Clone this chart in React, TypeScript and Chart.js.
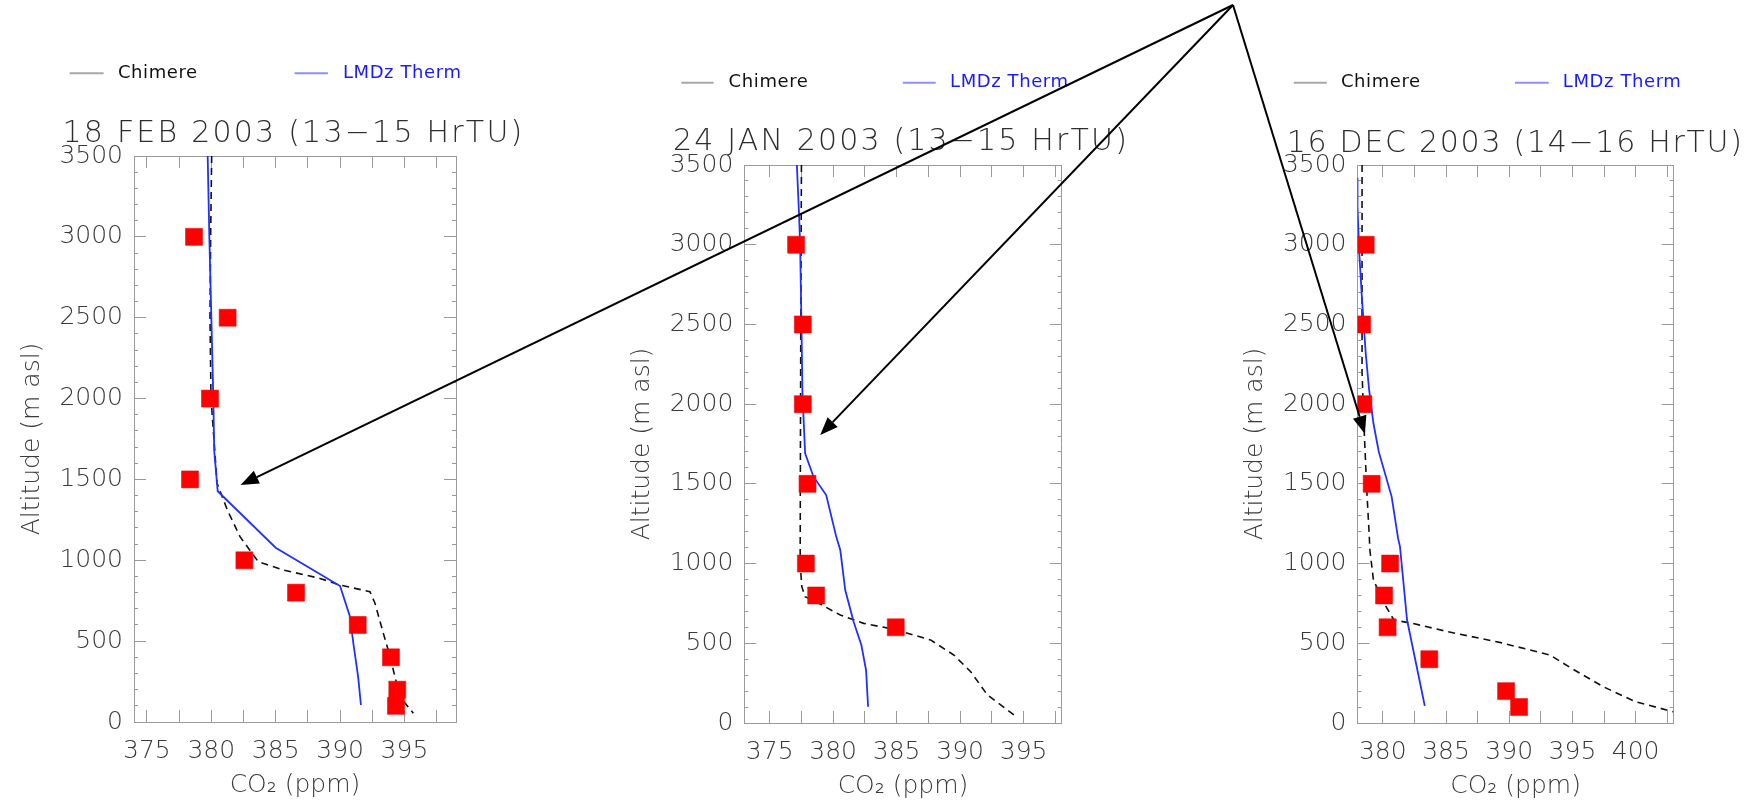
import React, { useEffect, useRef } from 'react';
import { Chart, registerables } from 'chart.js';

Chart.register(...registerables);

// ---------- text ----------
const seriesNames = ['Chimere', 'LMDz Therm', 'Observations'];
const panelTitles = [
  '18 FEB 2003 (13\u221215 HrTU)',
  '24 JAN 2003 (13\u221215 HrTU)',
  '16 DEC 2003 (14\u221216 HrTU)',
];
const yAxisTitle = 'Altitude (m asl)';
const xAxisTitle = 'CO\u2082 (ppm)';

// ---------- ticks ----------
const altMajorTicks = [0, 500, 1000, 1500, 2000, 2500, 3000, 3500];
const altMinorTicks = [
  0, 100, 200, 300, 400, 500, 600, 700, 800, 900, 1000, 1100, 1200, 1300, 1400, 1500, 1600, 1700,
  1800, 1900, 2000, 2100, 2200, 2300, 2400, 2500, 2600, 2700, 2800, 2900, 3000, 3100, 3200, 3300,
  3400, 3500,
];
const co2TicksAB = [375, 377.5, 380, 382.5, 385, 387.5, 390, 392.5, 395, 397.5];
const co2LabelsAB = [375, 380, 385, 390, 395];
const co2TicksC = [380, 382.5, 385, 387.5, 390, 392.5, 395, 397.5, 400, 402.5];
const co2LabelsC = [380, 385, 390, 395, 400];
const co2Range1 = [374, 399];
const co2Range2 = [373, 398];
const co2Range3 = [378, 403];
const altRange = [0, 3500];

// ---------- panel 1 : 18 FEB 2003 ----------
const chimere1CO2 = [380.03, 379.95, 379.9, 379.98, 380.25, 380.45, 381.25, 382.23, 383.65, 385.6, 388.44, 390.0, 392.32, 392.71, 393.36, 393.88, 394.26, 394.65, 395.69];
const chimere1Alt = [3500, 3000, 2500, 2000, 1700, 1476, 1311, 1146, 991, 940, 888, 847, 806, 734, 548, 404, 280, 156, 54];
const lmdz1CO2 = [379.72, 379.85, 380.16, 380.23, 380.5, 385.0, 390.0, 390.77, 391.03, 391.4, 391.62];
const lmdz1Alt = [3500, 3000, 2000, 1675, 1427, 1078, 841, 651, 487, 280, 105];
const obs1CO2 = [378.66, 381.27, 379.9, 378.35, 382.57, 386.58, 391.37, 393.95, 394.44, 394.34];
const obs1Alt = [3000, 2500, 2000, 1500, 1000, 800, 600, 400, 200, 100];

// ---------- panel 2 : 24 JAN 2003 ----------
const chimere2CO2 = [377.5, 377.45, 377.42, 377.4, 377.53, 377.79, 378.98, 380.56, 382.4, 384.77, 387.67, 389.51, 390.83, 392.15, 394.25];
const chimere2Alt = [3500, 2500, 1700, 1000, 855, 792, 746, 677, 625, 588, 521, 426, 322, 176, 50];
const lmdz2CO2 = [377.14, 377.32, 377.4, 377.5, 377.58, 377.79, 378.45, 379.45, 380.24, 380.56, 380.95, 381.61, 382.22, 382.59, 382.75];
const lmdz2Alt = [3500, 3176, 2988, 2507, 2068, 1692, 1545, 1430, 1169, 1085, 834, 635, 489, 332, 102];
const obs2CO2 = [377.08, 377.61, 377.61, 377.98, 377.85, 378.66, 384.93];
const obs2Alt = [3000, 2500, 2000, 1500, 1000, 800, 600];

// ---------- panel 3 : 16 DEC 2003 ----------
const chimere3CO2 = [378.36, 378.36, 378.45, 378.56, 378.74, 378.92, 378.98, 379.26, 380.1, 380.88, 382.34, 385.13, 389.33, 393.24, 394.92, 397.43, 399.95, 402.97];
const chimere3Alt = [3500, 2200, 2000, 1775, 1450, 1190, 1085, 897, 751, 646, 625, 573, 504, 426, 343, 228, 134, 71];
const lmdz3CO2 = [378.0, 378.0, 378.14, 378.36, 378.65, 378.92, 379.26, 379.68, 380.7, 381.21, 381.36, 381.92, 382.9, 383.32];
const lmdz3Alt = [3420, 3238, 2946, 2653, 2319, 2089, 1880, 1702, 1420, 1158, 1106, 646, 270, 107];
const obs3CO2 = [378.65, 378.36, 378.47, 379.12, 380.58, 380.1, 380.38, 383.68, 389.75, 390.78];
const obs3Alt = [3000, 2500, 2000, 1500, 1000, 800, 600, 400, 200, 100];

// ---------- arrow tips (data coordinates, one per panel) ----------
const arrowTipCO2 = [382.28, 378.98, 378.59];
const arrowTipAlt = [1466, 1806, 1813];

// ---------- layout (pixels) ----------
const PAGE_W = 1755;
const PAGE_H = 803;
const ARROW_ORIGIN = { x: 1233, y: 5 };
const Y_AXIS_W = 120;
const X_AXIS_H = 78;
const FONT = "'DejaVu Sans', sans-serif";
const AXIS_GRAY = '#9a9a9a';
const TEXT_GRAY = '#3a3a3a';

const zip = (xs: number[], ys: number[]) => xs.map((x, i) => ({ x, y: ys[i] }));

const panels = [
  {
    title: panelTitles[0], range: co2Range1, xTicks: co2TicksAB, xLabels: co2LabelsAB,
    chim: zip(chimere1CO2, chimere1Alt), lmdz: zip(lmdz1CO2, lmdz1Alt), obs: zip(obs1CO2, obs1Alt),
    left: 0, width: 560, area: { left: 134, right: 456, top: 156, bottom: 722 },
    head: { tx: 62.5, ty: 134, tw: 462, ly: 73.3, l1: [69.6, 103.6], t1: 117.9, l2: [294.6, 327.9], t2: 342.9 },
  },
  {
    title: panelTitles[1], range: co2Range2, xTicks: co2TicksAB, xLabels: co2LabelsAB,
    chim: zip(chimere2CO2, chimere2Alt), lmdz: zip(lmdz2CO2, lmdz2Alt), obs: zip(obs2CO2, obs2Alt),
    left: 560, width: 600, area: { left: 184.3, right: 501.7, top: 165, bottom: 723 },
    head: { tx: 113, ty: 142.3, tw: 456, ly: 82.7, l1: [121.4, 153.6], t1: 168.6, l2: [342.9, 375.7], t2: 390 },
  },
  {
    title: panelTitles[2], range: co2Range3, xTicks: co2TicksC, xLabels: co2LabelsC,
    chim: zip(chimere3CO2, chimere3Alt), lmdz: zip(lmdz3CO2, lmdz3Alt), obs: zip(obs3CO2, obs3Alt),
    left: 1160, width: 595, area: { left: 197.5, right: 513.6, top: 165, bottom: 723 },
    head: { tx: 126.7, ty: 144, tw: 457, ly: 82.7, l1: [133.8, 166.7], t1: 180.9, l2: [355, 388.7], t2: 402.8 },
  },
];

const headerPlugin = {
  id: 'panelHeader',
  afterDraw(chart: any, _args: any, opts: any) {
    if (!opts || !opts.title) return;
    const ctx = chart.ctx as CanvasRenderingContext2D & { letterSpacing?: string };
    const h = opts.head;
    ctx.save();
    // title
    ctx.textBaseline = 'middle';
    ctx.textAlign = 'left';
    ctx.font = `300 30px ${FONT}`;
    ctx.letterSpacing = '0px';
    const n = Array.from(opts.title as string).length;
    const w0 = ctx.measureText(opts.title).width;
    ctx.letterSpacing = `${(h.tw - w0) / n}px`;
    ctx.fillStyle = '#2e2e2e';
    ctx.fillText(opts.title, h.tx, h.ty);
    // legend
    ctx.letterSpacing = '0.6px';
    ctx.font = `18px ${FONT}`;
    ctx.lineWidth = 2;
    const ds = chart.data.datasets;
    ctx.strokeStyle = '#a8a8a8';
    ctx.beginPath();
    ctx.moveTo(h.l1[0], h.ly);
    ctx.lineTo(h.l1[1], h.ly);
    ctx.stroke();
    ctx.fillStyle = '#111111';
    ctx.fillText(ds[0].label, h.t1, h.ly);
    ctx.strokeStyle = '#8f8fff';
    ctx.beginPath();
    ctx.moveTo(h.l2[0], h.ly);
    ctx.lineTo(h.l2[1], h.ly);
    ctx.stroke();
    ctx.fillStyle = '#1a1aff';
    ctx.fillText(ds[1].label, h.t2, h.ly);
    ctx.restore();
  },
};

function buildConfig(p: any): any {
  const setTicks = (vals: number[]) => (s: any) => {
    s.ticks = vals.map((v) => ({ value: v }));
  };
  const grid = (len: number) => ({
    drawOnChartArea: false,
    drawTicks: true,
    tickLength: len,
    color: AXIS_GRAY,
    tickColor: AXIS_GRAY,
    lineWidth: 1,
  });
  const hiddenTicks = { display: false };
  const tickFont = { family: FONT, size: 25, weight: '300' as any };
  const titleFont = { family: FONT, size: 25, weight: '300' as any };
  return {
    type: 'scatter',
    data: {
      datasets: [
        {
          label: seriesNames[0], data: p.chim, showLine: true, borderColor: '#111111', borderWidth: 1.6,
          borderDash: [7, 5], pointRadius: 0, pointHoverRadius: 0, clip: 0, order: 2,
        },
        {
          label: seriesNames[1], data: p.lmdz, showLine: true, borderColor: '#2030ff', borderWidth: 1.8,
          pointRadius: 0, pointHoverRadius: 0, clip: 0, order: 1,
        },
        {
          label: seriesNames[2], data: p.obs, showLine: false, pointStyle: 'rect', pointRadius: 12,
          pointHoverRadius: 12, backgroundColor: '#ff0000', borderColor: '#e81010', borderWidth: 0.6,
          clip: 0, order: 0,
        },
      ],
    },
    options: {
      responsive: false,
      animation: false,
      events: [],
      layout: {
        padding: {
          left: p.area.left - Y_AXIS_W,
          right: p.width - p.area.right,
          top: p.area.top,
          bottom: PAGE_H - p.area.bottom - X_AXIS_H,
        },
      },
      plugins: {
        legend: { display: false },
        tooltip: { enabled: false },
        title: { display: false },
        panelHeader: { title: p.title, head: p.head },
      },
      scales: {
        x: {
          type: 'linear', position: 'bottom', min: p.range[0], max: p.range[1],
          afterBuildTicks: setTicks(p.xTicks),
          afterFit: (s: any) => { s.height = X_AXIS_H; },
          ticks: {
            autoSkip: false, maxRotation: 0, padding: 26, color: TEXT_GRAY, font: tickFont,
            callback: (v: any) => (p.xLabels.includes(Number(v)) ? String(v) : ''),
          },
          grid: grid(-12),
          border: { display: true, color: AXIS_GRAY, width: 1 },
          title: { display: true, text: xAxisTitle, color: TEXT_GRAY, font: titleFont, padding: 0 },
        },
        xTop: {
          type: 'linear', position: 'top', min: p.range[0], max: p.range[1],
          afterBuildTicks: setTicks(p.xTicks),
          afterFit: (s: any) => { s.height = 0; },
          ticks: hiddenTicks,
          grid: grid(-12),
          border: { display: true, color: AXIS_GRAY, width: 1 },
        },
        y: {
          type: 'linear', position: 'left', min: altRange[0], max: altRange[1],
          afterBuildTicks: setTicks(altMajorTicks),
          afterFit: (s: any) => { s.width = Y_AXIS_W; },
          ticks: {
            autoSkip: false, padding: 23, color: TEXT_GRAY, font: tickFont,
            callback: (v: any) => String(v),
          },
          grid: grid(-12),
          border: { display: true, color: AXIS_GRAY, width: 1 },
          title: { display: true, text: yAxisTitle, color: TEXT_GRAY, font: titleFont, padding: { top: 3, bottom: 0 } },
        },
        yMinor: {
          type: 'linear', position: 'left', weight: -1, min: altRange[0], max: altRange[1],
          afterBuildTicks: setTicks(altMinorTicks),
          afterFit: (s: any) => { s.width = 0; },
          ticks: hiddenTicks,
          grid: grid(-4),
          border: { display: false },
        },
        yRight: {
          type: 'linear', position: 'right', min: altRange[0], max: altRange[1],
          afterBuildTicks: setTicks(altMajorTicks),
          afterFit: (s: any) => { s.width = 0; },
          ticks: hiddenTicks,
          grid: grid(-12),
          border: { display: true, color: AXIS_GRAY, width: 1 },
        },
        yRightMinor: {
          type: 'linear', position: 'right', weight: -1, min: altRange[0], max: altRange[1],
          afterBuildTicks: setTicks(altMinorTicks),
          afterFit: (s: any) => { s.width = 0; },
          ticks: hiddenTicks,
          grid: grid(-4),
          border: { display: false },
        },
      },
    },
    plugins: [headerPlugin],
  };
}

function drawArrow(ctx: CanvasRenderingContext2D, x0: number, y0: number, x1: number, y1: number) {
  const ang = Math.atan2(y1 - y0, x1 - x0);
  const headLen = 18;
  const headHalf = 7;
  const bx = x1 - headLen * Math.cos(ang);
  const by = y1 - headLen * Math.sin(ang);
  ctx.strokeStyle = '#000000';
  ctx.fillStyle = '#000000';
  ctx.lineWidth = 2;
  ctx.beginPath();
  ctx.moveTo(x0, y0);
  ctx.lineTo(bx, by);
  ctx.stroke();
  ctx.beginPath();
  ctx.moveTo(x1, y1);
  ctx.lineTo(bx + headHalf * Math.sin(ang), by - headHalf * Math.cos(ang));
  ctx.lineTo(bx - headHalf * Math.sin(ang), by + headHalf * Math.cos(ang));
  ctx.closePath();
  ctx.fill();
}

export default function App() {
  const r0 = useRef<HTMLCanvasElement>(null);
  const r1 = useRef<HTMLCanvasElement>(null);
  const r2 = useRef<HTMLCanvasElement>(null);
  const arrowRef = useRef<HTMLCanvasElement>(null);

  useEffect(() => {
    Chart.defaults.font.family = FONT;
    const refs = [r0, r1, r2];
    const charts = panels.map((p, i) => new Chart(refs[i].current as HTMLCanvasElement, buildConfig(p)));
    const ac = arrowRef.current;
    if (ac) {
      const ctx = ac.getContext('2d');
      if (ctx) {
        ctx.clearRect(0, 0, PAGE_W, PAGE_H);
        panels.forEach((p, i) => {
          const c = charts[i];
          const tx = p.left + c.scales.x.getPixelForValue(arrowTipCO2[i]);
          const ty = c.scales.y.getPixelForValue(arrowTipAlt[i]);
          drawArrow(ctx, ARROW_ORIGIN.x, ARROW_ORIGIN.y, tx, ty);
        });
      }
    }
    return () => {
      charts.forEach((c) => c.destroy());
    };
  }, []);

  const refs = [r0, r1, r2];
  return (
    <div style={{ position: 'absolute', left: 0, top: 0, width: PAGE_W, height: PAGE_H, background: '#ffffff', overflow: 'hidden' }}>
      {panels.map((p, i) => (
        <canvas
          key={i}
          ref={refs[i]}
          width={p.width}
          height={PAGE_H}
          style={{ position: 'absolute', left: p.left, top: 0, width: p.width, height: PAGE_H }}
        />
      ))}
      <canvas
        ref={arrowRef}
        width={PAGE_W}
        height={PAGE_H}
        style={{ position: 'absolute', left: 0, top: 0, width: PAGE_W, height: PAGE_H, pointerEvents: 'none' }}
      />
    </div>
  );
}
